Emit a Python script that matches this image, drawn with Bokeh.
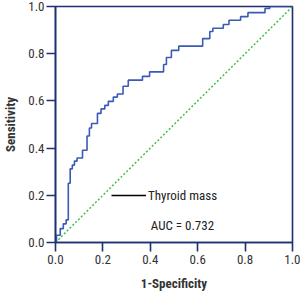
from bokeh.plotting import figure
from bokeh.models import Range1d, Legend, LegendItem, Label, FixedTicker, PrintfTickFormatter
from bokeh.embed import file_html
from bokeh.resources import INLINE

# ROC operating points: false positive rate (1-specificity) and true positive rate (sensitivity)
fpr = [0.000, 0.004, 0.020, 0.033, 0.045, 0.054, 0.062, 0.071, 0.080, 0.091,
       0.114, 0.133, 0.143, 0.152, 0.177, 0.192, 0.208, 0.223, 0.244, 0.261,
       0.285, 0.307, 0.367, 0.397, 0.456, 0.468, 0.489, 0.520, 0.621, 0.651,
       0.664, 0.708, 0.732, 0.781, 0.812, 0.884, 0.904, 1.000]
tpr = [0.000, 0.031, 0.059, 0.079, 0.096, 0.251, 0.312, 0.328, 0.345, 0.358,
       0.391, 0.451, 0.485, 0.504, 0.547, 0.566, 0.581, 0.598, 0.616, 0.629,
       0.662, 0.688, 0.704, 0.723, 0.754, 0.784, 0.814, 0.832, 0.864, 0.894,
       0.908, 0.924, 0.942, 0.957, 0.974, 0.992, 1.000, 1.000]

# reference line of no discrimination
chance = [0.0, 1.0]

ticks = [0.0, 0.2, 0.4, 0.6, 0.8, 1.0]
series_name = "Thyroid mass"
auc_text = "AUC = 0.732"

FONT = "Roboto Condensed"
NAVY = "#1d3170"

p = figure(width=300, height=293, output_backend="svg", toolbar_location=None,
           x_range=Range1d(0, 1), y_range=Range1d(0, 1),
           min_border_left=53, min_border_right=8, min_border_top=6, min_border_bottom=49)

p.grid.visible = False
p.outline_line_color = NAVY
p.outline_line_width = 1.6
p.background_fill_color = "white"
p.border_fill_color = "white"

for ax in (p.xaxis[0], p.yaxis[0]):
    ax.ticker = FixedTicker(ticks=ticks)
    ax.formatter = PrintfTickFormatter(format="%.1f")
    ax.axis_line_color = NAVY
    ax.axis_line_width = 1.6
    ax.major_tick_line_color = NAVY
    ax.major_tick_line_width = 1.6
    ax.major_tick_out = 9
    ax.major_tick_in = 0
    ax.minor_tick_line_color = None
    ax.major_label_text_font = FONT
    ax.major_label_text_font_size = "13px"
    ax.major_label_text_color = "#333333"
    ax.axis_label_text_font = FONT
    ax.axis_label_text_font_size = "13px"
    ax.axis_label_text_font_style = "bold"
    ax.axis_label_text_color = "#333333"

p.xaxis.axis_label = "1-Specificity"
p.yaxis.axis_label = "Sensitivity"
p.xaxis.major_label_standoff = 3
p.yaxis.major_label_standoff = 2
p.xaxis.axis_label_standoff = 9
p.yaxis.axis_label_standoff = 7

p.line(chance, chance, line_color="#3cc24a", line_width=1.5, line_dash="2 2")
p.step(fpr, tpr, mode="after", line_color="#3a5bb5", line_width=1.6)

# legend key: black line with the series name (one NaN point so nothing is drawn in the plot area)
key = p.line([float("nan")], [float("nan")], line_color="black", line_width=1.5)
legend = Legend(items=[LegendItem(label=series_name, renderers=[key])],
                location=(56, 37), orientation="vertical",
                glyph_width=35, glyph_height=20, label_height=20,
                label_standoff=2, padding=0, margin=0, spacing=0,
                border_line_alpha=0, background_fill_alpha=0,
                label_text_font=FONT, label_text_font_size="13px",
                label_text_color="#222222")
p.add_layout(legend)

p.add_layout(Label(x=0.402, y=0.071, text=auc_text, text_font=FONT,
                   text_font_size="13px", text_color="#222222",
                   text_baseline="middle"))

open("out.html", "w").write(file_html(p, INLINE))
